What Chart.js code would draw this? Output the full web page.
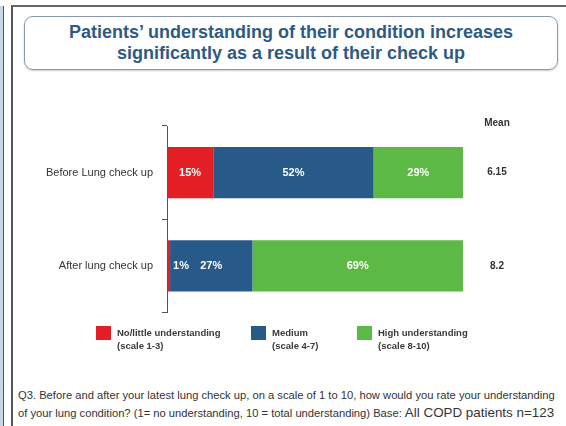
<!DOCTYPE html>
<html>
<head>
<meta charset="utf-8">
<script src="https://cdn.jsdelivr.net/npm/chart.js@4/dist/chart.umd.min.js"></script>
<style>
  body { margin: 0; background: #fff; font-family: "Liberation Sans", Arial, sans-serif; }
  #page { position: relative; width: 566px; height: 426px; overflow: hidden; background: #fff; }
  #strip { position: absolute; left: 0; top: 6px; width: 3px; height: 430px; background: #c9d8e6; border-right: 1px solid #555; }
  #frame { position: absolute; left: 11px; top: 5px; width: 600px; height: 440px; border-left: 2px solid #555; border-top: 2px solid #666; }
  #title { position: absolute; left: 24px; top: 16px; width: 532px; border: 1px solid #8a98aa; border-radius: 9px;
           box-shadow: 0 1px 2px rgba(0,0,0,0.2); text-align: center; color: #2e5a84; font-weight: bold; font-size: 18px; line-height: 21px;
           padding-top: 5px; height: 47px; }
  #chartBox { position: absolute; left: 0; top: 110px; width: 566px; height: 218px; }
  #legend { position: absolute; top: 326px; left: 0; width: 566px; height: 30px; }
  .item { position: absolute; top: 0; }
  .sw { position: absolute; left: 0; top: 0; width: 15px; height: 14px; }
  .lt { position: absolute; left: 21px; top: 0; white-space: nowrap; font-size: 9.5px; font-weight: bold; color: #3a3a3a; line-height: 13px; }
  #foot { position: absolute; left: 18px; top: 387px; width: 560px; font-size: 11.2px; color: #333; line-height: 17px; white-space: nowrap; }
  #foot .big { font-size: 13.4px; }
</style>
</head>
<body>
<div id="page">
  <div id="strip"></div>
  <div id="frame"></div>
  <div id="title">Patients’ understanding of their condition increases<br>significantly as a result of their check up</div>
  <div id="chartBox"><canvas id="chart"></canvas></div>
  <div id="legend"></div>
  <div id="foot">Q3. Before and after your latest lung check up, on a scale of 1 to 10, how would you rate your understanding<br>of your lung condition? (1= no understanding, 10 = total understanding) Base: <span class="big">All COPD patients n=123</span></div>
</div>
<script>
const categories = ["Before Lung check up", "After lung check up"];
const seriesNames = ["No/little understanding", "Medium", "High understanding"];
const seriesScales = ["(scale 1-3)", "(scale 4-7)", "(scale 8-10)"];
const noLittle = [15, 1];
const medium = [52, 27];
const high = [29, 69];
const means = ["6.15", "8.2"];
const meanTitle = "Mean";

const colors = ["#e31e25", "#275a89", "#5db946"];
const raw = [noLittle, medium, high];

// each bar is shown as share of its own total (the bars fill the full width)
const totals = categories.map((c, i) => raw.reduce((s, arr) => s + arr[i], 0));
const shares = raw.map(arr => arr.map((v, i) => v / totals[i] * 100));

// legend
const legend = document.getElementById("legend");
const legendX = [96, 251, 357];
seriesNames.forEach((name, k) => {
    const it = document.createElement("div");
    it.className = "item";
    it.style.left = legendX[k] + "px";
    it.innerHTML = '<div class="sw" style="background:' + colors[k] + '"></div>' +
        '<div class="lt">' + name + '<br>' + seriesScales[k] + '</div>';
    legend.appendChild(it);
});

const extras = {
    id: "extras",
    afterDatasetsDraw(chart) {
        const ctx = chart.ctx;
        ctx.save();
        ctx.textBaseline = "middle";
        // labels inside segments
        ctx.font = "bold 11px 'Liberation Sans', Arial, sans-serif";
        ctx.fillStyle = "#fff";
        chart.data.datasets.forEach((ds, d) => {
            chart.getDatasetMeta(d).data.forEach((bar, i) => {
                const txt = raw[d][i] + "%";
                const left = Math.min(bar.x, bar.base);
                const w = Math.abs(bar.x - bar.base);
                if (w < 20) {
                    ctx.textAlign = "left";
                    ctx.fillText(txt, left + w + 3, bar.y);
                } else {
                    ctx.textAlign = "center";
                    ctx.fillText(txt, left + w / 2, bar.y);
                }
            });
        });
        // mean column
        const mx = chart.chartArea.right + 34;
        ctx.fillStyle = "#333";
        ctx.textAlign = "center";
        ctx.font = "bold 10px 'Liberation Sans', Arial, sans-serif";
        ctx.fillText(meanTitle, mx, chart.chartArea.top - 3);
        const ys = chart.scales.y;
        means.forEach((m, i) => {
            ctx.fillText(m, mx, ys.getPixelForValue(i));
        });
        ctx.restore();
    }
};

new Chart(document.getElementById("chart"), {
    type: "bar",
    data: {
        labels: categories,
        datasets: seriesNames.map((n, k) => ({
            label: n,
            data: shares[k],
            backgroundColor: colors[k],
            borderWidth: 0,
            barPercentage: 0.55,
            categoryPercentage: 1
        }))
    },
    options: {
        indexAxis: "y",
        responsive: true,
        maintainAspectRatio: false,
        animation: false,
        layout: { padding: { top: 16, right: 103, bottom: 2, left: 0 } },
        plugins: { legend: { display: false }, tooltip: { enabled: false } },
        scales: {
            x: { stacked: true, min: 0, max: 100, display: false },
            y: {
                stacked: true,
                afterFit(s) { s.width = 167; },
                grid: { drawOnChartArea: false, drawTicks: true, tickLength: 5, color: "#555", offset: true },
                border: { display: true, color: "#555", width: 1 },
                ticks: { color: "#333", padding: 9, font: { size: 11, family: "'Liberation Sans', Arial, sans-serif" } }
            }
        }
    },
    plugins: [extras]
});
</script>
</body>
</html>
